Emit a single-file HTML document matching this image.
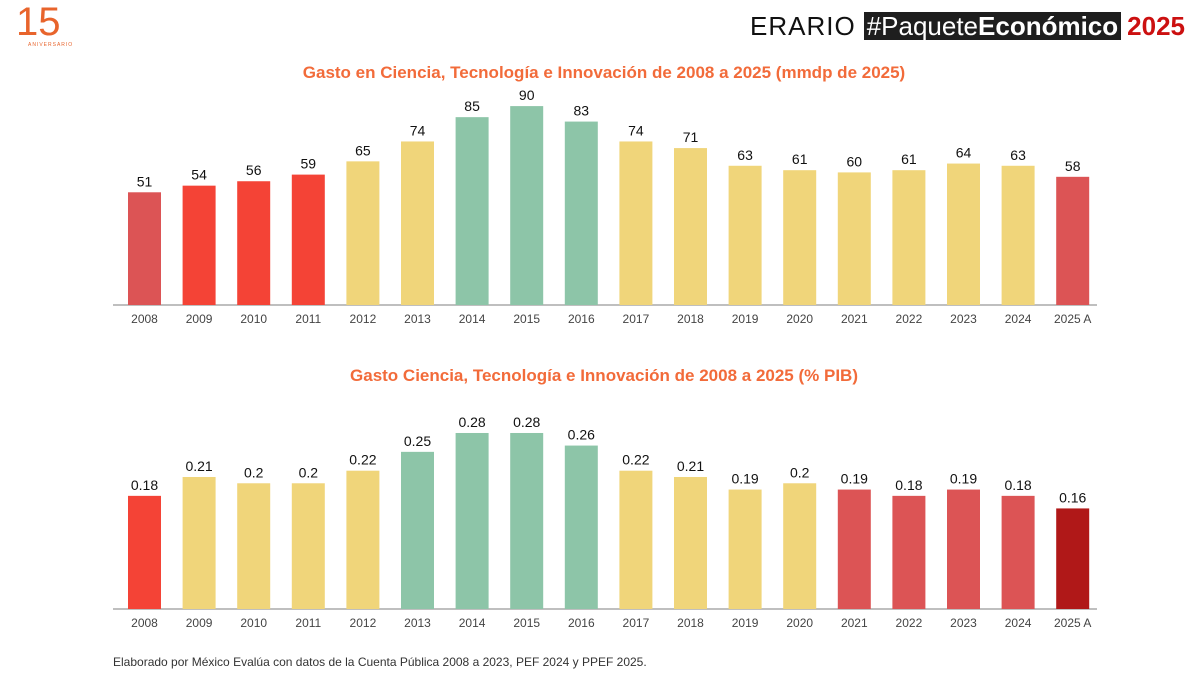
<!DOCTYPE html>
<html><head><meta charset="utf-8"><style>
body{margin:0;width:1200px;height:675px;background:#fff;overflow:hidden;font-family:"Liberation Sans",sans-serif;position:relative}
.abs{position:absolute}
</style></head><body>
<div class="abs" style="left:14px;top:2px;width:60px;height:44px">
 <div class="abs" style="left:2px;top:0;font-size:40px;color:#e8642c;font-weight:300;line-height:40px">15</div>
 <div class="abs" style="left:14px;top:40px;font-size:5px;color:#e8642c;letter-spacing:1px">ANIVERSARIO</div>
</div>
<div class="abs" style="left:750px;top:11px;height:30px;display:flex;align-items:center;font-size:26px;white-space:nowrap">
 <span style="color:#111;letter-spacing:1px">ERARIO</span>
 <span style="background:#1e1e1e;color:#fff;margin-left:8px;padding:0 3px;line-height:28px">#Paquete<b>Económico</b></span>
 <b style="color:#cc1010;margin-left:6px">2025</b>
</div>
<svg class="abs" style="left:0;top:0" width="1200" height="675" id="chart"></svg>
<div class="abs" style="left:113px;top:655px;font-size:12px;color:#333">Elaborado por México Evalúa con datos de la Cuenta Pública 2008 a 2023, PEF 2024 y PPEF 2025.</div>
<script>
const years=["2008","2009","2010","2011","2012","2013","2014","2015","2016","2017","2018","2019","2020","2021","2022","2023","2024","2025 A"];
const spend=[51,54,56,59,65,74,85,90,83,74,71,63,61,60,61,64,63,58];
const spendColors=["#dc5455","#f44336","#f44336","#f44336","#f0d57a","#f0d57a","#8dc5a8","#8dc5a8","#8dc5a8","#f0d57a","#f0d57a","#f0d57a","#f0d57a","#f0d57a","#f0d57a","#f0d57a","#f0d57a","#dc5455"];
const pib=[0.18,0.21,0.2,0.2,0.22,0.25,0.28,0.28,0.26,0.22,0.21,0.19,0.2,0.19,0.18,0.19,0.18,0.16];
const pibColors=["#f44336","#f0d57a","#f0d57a","#f0d57a","#f0d57a","#8dc5a8","#8dc5a8","#8dc5a8","#8dc5a8","#f0d57a","#f0d57a","#f0d57a","#f0d57a","#dc5455","#dc5455","#dc5455","#dc5455","#b01818"];
const svg=document.getElementById('chart');
const NS="http://www.w3.org/2000/svg";
function mk(tag,attrs,txt){const e=document.createElementNS(NS,tag);for(const k in attrs)e.setAttribute(k,attrs[k]);if(txt!==undefined)e.textContent=txt;svg.appendChild(e);return e;}
const xPos=i=>144.5+i*54.6;
function chart(name,title,titleY,base,scale,vals,cols){
 const t=mk('text',{x:604,y:titleY,'text-anchor':'middle','font-size':17,'font-weight':'bold',fill:'#f26b3a'},title);
 
 
 const ax=mk('line',{x1:113,x2:1097,y1:base,y2:base,stroke:'#aaa','stroke-width':1.5});
 
 
 vals.forEach((v,i)=>{
  const h=v*scale,x=xPos(i);
  const r=mk('rect',{x:x-16.5,y:base-h,width:33,height:h,fill:cols[i]});
  
  
  const l=mk('text',{x:x,y:base-h-6,'text-anchor':'middle','font-size':14,fill:'#111'},String(v));
  
  
  const tk=mk('text',{x:x,y:base+18,'text-anchor':'middle','font-size':12,fill:'#444'},years[i]);
  
  
 });
}
chart('spend','Gasto en Ciencia, Tecnología e Innovación de 2008 a 2025 (mmdp de 2025)',78,305,2.21,spend,spendColors);
chart('pib','Gasto Ciencia, Tecnología e Innovación de 2008 a 2025 (% PIB)',381,609,628.6,pib,pibColors);
</script>
</body></html>
